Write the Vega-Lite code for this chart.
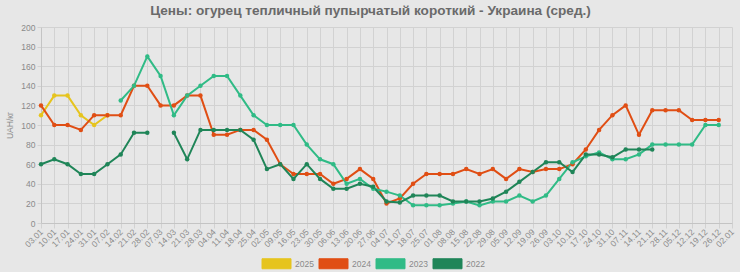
{
  "$schema": "https://vega.github.io/schema/vega-lite/v6.json",
  "autosize": {"type": "none"},
  "width": 691,
  "height": 196,
  "padding": {"left": 41, "top": 27, "right": 8, "bottom": 49},
  "background": "#e7e7e7",
  "title": {
    "text": "Цены: огурец тепличный пупырчатый короткий - Украина (сред.)",
    "font": "Liberation Sans",
    "fontSize": 13.6,
    "fontWeight": "bold",
    "color": "#6a6a6a",
    "anchor": "middle",
    "dx": -16,
    "offset": 5
  },
  "config": {
    "view": {"stroke": null},
    "font": "Liberation Sans",
    "axis": {
      "gridColor": "#d2d2d2",
      "gridWidth": 1,
      "domainColor": "#c4c4c4",
      "tickColor": "#d2d2d2",
      "labelColor": "#8a8a8a",
      "labelFont": "Liberation Sans",
      "labelFontSize": 8.5,
      "titleColor": "#8a8a8a",
      "titleFont": "Liberation Sans",
      "titleFontSize": 8.5,
      "titleFontWeight": "normal"
    }
  },
  "data": {
    "values": [
      {"d": "03.01", "s": "2025", "v": 110},
      {"d": "10.01", "s": "2025", "v": 130},
      {"d": "17.01", "s": "2025", "v": 130},
      {"d": "24.01", "s": "2025", "v": 110},
      {"d": "31.01", "s": "2025", "v": 100},
      {"d": "07.02", "s": "2025", "v": 110},

      {"d": "03.01", "s": "2024", "v": 120},
      {"d": "10.01", "s": "2024", "v": 100},
      {"d": "17.01", "s": "2024", "v": 100},
      {"d": "24.01", "s": "2024", "v": 95},
      {"d": "31.01", "s": "2024", "v": 110},
      {"d": "07.02", "s": "2024", "v": 110},
      {"d": "14.02", "s": "2024", "v": 110},
      {"d": "21.02", "s": "2024", "v": 140},
      {"d": "28.02", "s": "2024", "v": 140},
      {"d": "07.03", "s": "2024", "v": 120},
      {"d": "14.03", "s": "2024", "v": 120},
      {"d": "21.03", "s": "2024", "v": 130},
      {"d": "28.03", "s": "2024", "v": 130},
      {"d": "04.04", "s": "2024", "v": 90},
      {"d": "11.04", "s": "2024", "v": 90},
      {"d": "18.04", "s": "2024", "v": 95},
      {"d": "25.04", "s": "2024", "v": 95},
      {"d": "02.05", "s": "2024", "v": 85},
      {"d": "09.05", "s": "2024", "v": 60},
      {"d": "16.05", "s": "2024", "v": 50},
      {"d": "23.05", "s": "2024", "v": 50},
      {"d": "30.05", "s": "2024", "v": 50},
      {"d": "06.06", "s": "2024", "v": 40},
      {"d": "13.06", "s": "2024", "v": 45},
      {"d": "20.06", "s": "2024", "v": 55},
      {"d": "27.06", "s": "2024", "v": 45},
      {"d": "04.07", "s": "2024", "v": 20},
      {"d": "11.07", "s": "2024", "v": 25},
      {"d": "18.07", "s": "2024", "v": 40},
      {"d": "25.07", "s": "2024", "v": 50},
      {"d": "01.08", "s": "2024", "v": 50},
      {"d": "08.08", "s": "2024", "v": 50},
      {"d": "15.08", "s": "2024", "v": 55},
      {"d": "22.08", "s": "2024", "v": 50},
      {"d": "29.08", "s": "2024", "v": 55},
      {"d": "05.09", "s": "2024", "v": 45},
      {"d": "12.09", "s": "2024", "v": 55},
      {"d": "19.09", "s": "2024", "v": 52},
      {"d": "26.09", "s": "2024", "v": 55},
      {"d": "03.10", "s": "2024", "v": 55},
      {"d": "10.10", "s": "2024", "v": 60},
      {"d": "17.10", "s": "2024", "v": 75},
      {"d": "24.10", "s": "2024", "v": 95},
      {"d": "31.10", "s": "2024", "v": 110},
      {"d": "07.11", "s": "2024", "v": 120},
      {"d": "14.11", "s": "2024", "v": 90},
      {"d": "21.11", "s": "2024", "v": 115},
      {"d": "28.11", "s": "2024", "v": 115},
      {"d": "05.12", "s": "2024", "v": 115},
      {"d": "12.12", "s": "2024", "v": 105},
      {"d": "19.12", "s": "2024", "v": 105},
      {"d": "26.12", "s": "2024", "v": 105},

      {"d": "14.02", "s": "2023", "v": 125},
      {"d": "21.02", "s": "2023", "v": 140},
      {"d": "28.02", "s": "2023", "v": 170},
      {"d": "07.03", "s": "2023", "v": 150},
      {"d": "14.03", "s": "2023", "v": 110},
      {"d": "21.03", "s": "2023", "v": 130},
      {"d": "28.03", "s": "2023", "v": 140},
      {"d": "04.04", "s": "2023", "v": 150},
      {"d": "11.04", "s": "2023", "v": 150},
      {"d": "18.04", "s": "2023", "v": 130},
      {"d": "25.04", "s": "2023", "v": 110},
      {"d": "02.05", "s": "2023", "v": 100},
      {"d": "09.05", "s": "2023", "v": 100},
      {"d": "16.05", "s": "2023", "v": 100},
      {"d": "23.05", "s": "2023", "v": 80},
      {"d": "30.05", "s": "2023", "v": 65},
      {"d": "06.06", "s": "2023", "v": 60},
      {"d": "13.06", "s": "2023", "v": 40},
      {"d": "20.06", "s": "2023", "v": 45},
      {"d": "27.06", "s": "2023", "v": 35},
      {"d": "04.07", "s": "2023", "v": 32},
      {"d": "11.07", "s": "2023", "v": 28},
      {"d": "18.07", "s": "2023", "v": 18},
      {"d": "25.07", "s": "2023", "v": 18},
      {"d": "01.08", "s": "2023", "v": 18},
      {"d": "08.08", "s": "2023", "v": 20},
      {"d": "15.08", "s": "2023", "v": 22},
      {"d": "22.08", "s": "2023", "v": 18},
      {"d": "29.08", "s": "2023", "v": 22},
      {"d": "05.09", "s": "2023", "v": 22},
      {"d": "12.09", "s": "2023", "v": 28},
      {"d": "19.09", "s": "2023", "v": 22},
      {"d": "26.09", "s": "2023", "v": 28},
      {"d": "03.10", "s": "2023", "v": 45},
      {"d": "10.10", "s": "2023", "v": 62},
      {"d": "17.10", "s": "2023", "v": 68},
      {"d": "24.10", "s": "2023", "v": 72},
      {"d": "31.10", "s": "2023", "v": 65},
      {"d": "07.11", "s": "2023", "v": 65},
      {"d": "14.11", "s": "2023", "v": 70},
      {"d": "21.11", "s": "2023", "v": 80},
      {"d": "28.11", "s": "2023", "v": 80},
      {"d": "05.12", "s": "2023", "v": 80},
      {"d": "12.12", "s": "2023", "v": 80},
      {"d": "19.12", "s": "2023", "v": 100},
      {"d": "26.12", "s": "2023", "v": 100},

      {"d": "03.01", "s": "2022", "v": 60},
      {"d": "10.01", "s": "2022", "v": 65},
      {"d": "17.01", "s": "2022", "v": 60},
      {"d": "24.01", "s": "2022", "v": 50},
      {"d": "31.01", "s": "2022", "v": 50},
      {"d": "07.02", "s": "2022", "v": 60},
      {"d": "14.02", "s": "2022", "v": 70},
      {"d": "21.02", "s": "2022", "v": 92},
      {"d": "28.02", "s": "2022", "v": 92},
      {"d": "07.03", "s": "2022", "v": null},
      {"d": "14.03", "s": "2022", "v": 92},
      {"d": "21.03", "s": "2022", "v": 65},
      {"d": "28.03", "s": "2022", "v": 95},
      {"d": "04.04", "s": "2022", "v": 95},
      {"d": "11.04", "s": "2022", "v": 95},
      {"d": "18.04", "s": "2022", "v": 95},
      {"d": "25.04", "s": "2022", "v": 85},
      {"d": "02.05", "s": "2022", "v": 55},
      {"d": "09.05", "s": "2022", "v": 60},
      {"d": "16.05", "s": "2022", "v": 45},
      {"d": "23.05", "s": "2022", "v": 60},
      {"d": "30.05", "s": "2022", "v": 45},
      {"d": "06.06", "s": "2022", "v": 35},
      {"d": "13.06", "s": "2022", "v": 35},
      {"d": "20.06", "s": "2022", "v": 40},
      {"d": "27.06", "s": "2022", "v": 37},
      {"d": "04.07", "s": "2022", "v": 22},
      {"d": "11.07", "s": "2022", "v": 21},
      {"d": "18.07", "s": "2022", "v": 28},
      {"d": "25.07", "s": "2022", "v": 28},
      {"d": "01.08", "s": "2022", "v": 28},
      {"d": "08.08", "s": "2022", "v": 22},
      {"d": "15.08", "s": "2022", "v": 22},
      {"d": "22.08", "s": "2022", "v": 22},
      {"d": "29.08", "s": "2022", "v": 25},
      {"d": "05.09", "s": "2022", "v": 32},
      {"d": "12.09", "s": "2022", "v": 42},
      {"d": "19.09", "s": "2022", "v": 52},
      {"d": "26.09", "s": "2022", "v": 62},
      {"d": "03.10", "s": "2022", "v": 62},
      {"d": "10.10", "s": "2022", "v": 52},
      {"d": "17.10", "s": "2022", "v": 70},
      {"d": "24.10", "s": "2022", "v": 70},
      {"d": "31.10", "s": "2022", "v": 67},
      {"d": "07.11", "s": "2022", "v": 75},
      {"d": "14.11", "s": "2022", "v": 75},
      {"d": "21.11", "s": "2022", "v": 75}
    ]
  },
  "encoding": {
    "x": {
      "field": "d",
      "type": "ordinal",
      "scale": {
        "type": "point",
        "padding": 0,
        "domain": ["03.01","10.01","17.01","24.01","31.01","07.02","14.02","21.02","28.02","07.03","14.03","21.03","28.03","04.04","11.04","18.04","25.04","02.05","09.05","16.05","23.05","30.05","06.06","13.06","20.06","27.06","04.07","11.07","18.07","25.07","01.08","08.08","15.08","22.08","29.08","05.09","12.09","19.09","26.09","03.10","10.10","17.10","24.10","31.10","07.11","14.11","21.11","28.11","05.12","12.12","19.12","26.12","02.01"]
      },
      "axis": {
        "title": null,
        "labelAngle": -45,
        "labelAlign": "right",
        "labelBaseline": "middle",
        "labelPadding": 2,
        "tickSize": 5,
        "grid": true
      }
    },
    "y": {
      "field": "v",
      "type": "quantitative",
      "scale": {"domain": [0, 200], "nice": false, "zero": true},
      "axis": {
        "title": "UAH/кг",
        "values": [0,20,40,60,80,100,120,140,160,180,200],
        "tickSize": 4,
        "labelPadding": 2,
        "titlePadding": 6,
        "grid": true
      }
    },
    "color": {
      "field": "s",
      "type": "nominal",
      "scale": {
        "domain": ["2025", "2024", "2023", "2022"],
        "range": ["#e6c41e", "#e04e14", "#30bb86", "#1f8558"]
      },
      "legend": {
        "title": null,
        "orient": "none",
        "legendX": 216,
        "legendY": 226,
        "direction": "horizontal",
        "columns": 4,
        "padding": 0,
        "symbolType": "M-1.45,-0.5 h2.9 v1 h-2.9 z",
        "symbolSize": 400,
        "symbolStrokeColor": "rgba(0,0,0,0.12)",
        "symbolStrokeWidth": 1,
        "symbolOpacity": 1,
        "symbolOffset": 9,
        "labelOffset": 8,
        "labelFontSize": 8.5,
        "labelColor": "#8a8a8a",
        "columnPadding": 0
      }
    },
    "order": {"value": null}
  },
  "layer": [
    {
      "mark": {"type": "line", "strokeWidth": 2, "invalid": "break-paths-show-domains"}
    },
    {
      "mark": {"type": "point", "filled": true, "size": 20, "opacity": 1, "invalid": "break-paths-show-domains"}
    }
  ]
}
